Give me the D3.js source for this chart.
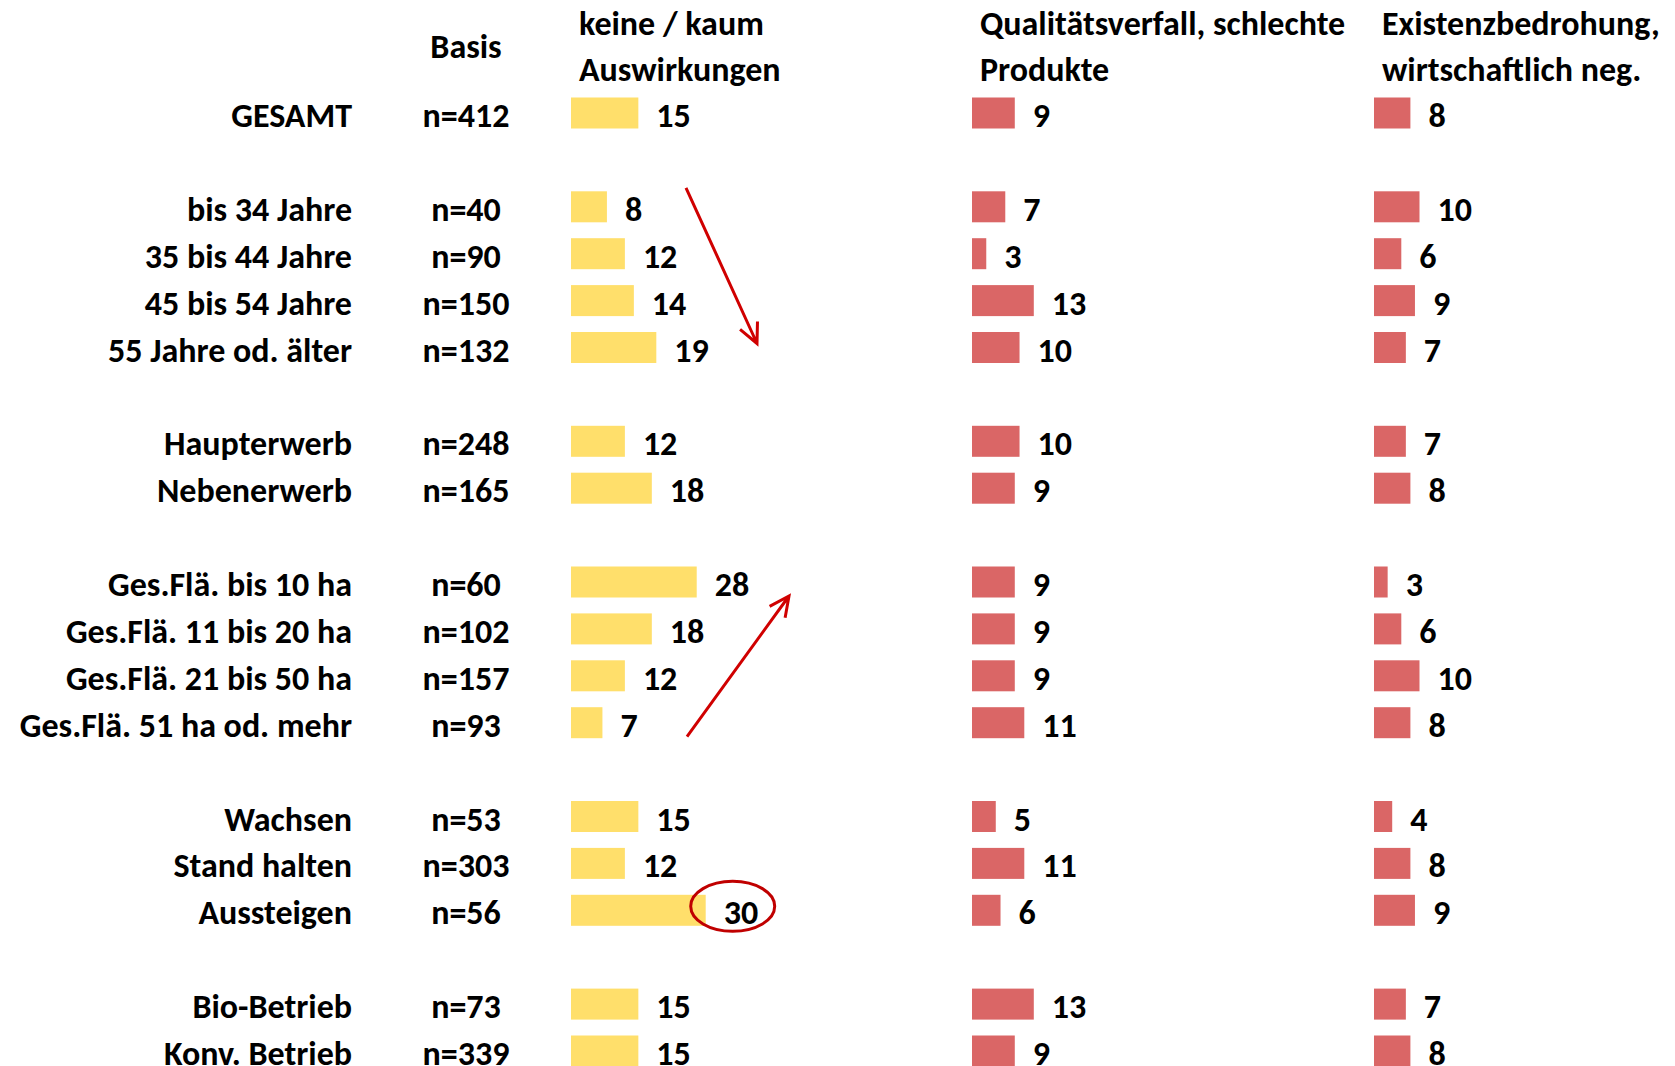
<!DOCTYPE html>
<html>
<head>
<meta charset="utf-8">
<script src="https://cdn.jsdelivr.net/npm/d3@7"></script>
<style>
  body { margin: 0; background: #fff; }
  text { font-family: Carlito, Calibri, Lato, sans-serif; font-weight: bold; fill: #000; }
</style>
</head>
<body>
<div id="chart"></div>
<script>
// Kategorien, Basis und Gruppen
var categories = ["GESAMT", "bis 34 Jahre", "35 bis 44 Jahre", "45 bis 54 Jahre", "55 Jahre od. älter",
  "Haupterwerb", "Nebenerwerb",
  "Ges.Flä. bis 10 ha", "Ges.Flä. 11 bis 20 ha", "Ges.Flä. 21 bis 50 ha", "Ges.Flä. 51 ha od. mehr",
  "Wachsen", "Stand halten", "Aussteigen",
  "Bio-Betrieb", "Konv. Betrieb"];
var basis = ["n=412", "n=40", "n=90", "n=150", "n=132", "n=248", "n=165",
  "n=60", "n=102", "n=157", "n=93", "n=53", "n=303", "n=56", "n=73", "n=339"];
var groups = [0, 1, 1, 1, 1, 2, 2, 3, 3, 3, 3, 4, 4, 4, 5, 5];

var seriesNames = [["keine / kaum", "Auswirkungen"], ["Qualitätsverfall, schlechte", "Produkte"], ["Existenzbedrohung,", "wirtschaftlich neg."]];
var keineKaum = [15, 8, 12, 14, 19, 12, 18, 28, 18, 12, 7, 15, 12, 30, 15, 15];
var qualitaet = [9, 7, 3, 13, 10, 10, 9, 9, 9, 9, 11, 5, 11, 6, 13, 9];
var existenz = [8, 10, 6, 9, 7, 7, 8, 3, 6, 10, 8, 4, 8, 9, 7, 8];

var width = 1675, height = 1066;
var svg = d3.select("#chart").append("svg")
  .attr("width", width)
  .attr("height", height);

// slot = index + group (one empty row between groups)
var slot = categories.map(function(d, i) { return i + groups[i]; });
var y = d3.scaleLinear().domain([0, 20]).range([113, 113 + 20 * 46.9]);
var barH = 31;
var fs = 34;

var columns = [
  { values: keineKaum, x0: 571, scale: d3.scaleLinear().domain([0, 30]).range([0, 134.7]), color: "#ffdf6b", hx: 579 },
  { values: qualitaet, x0: 972, scale: d3.scaleLinear().domain([0, 13]).range([0, 61.8]), color: "#da6666", hx: 980 },
  { values: existenz, x0: 1374, scale: d3.scaleLinear().domain([0, 10]).range([0, 45.5]), color: "#da6666", hx: 1382 }
];

// row labels
svg.selectAll(".cat").data(categories).enter().append("text")
  .attr("class", "cat")
  .attr("x", 352)
  .attr("y", function(d, i) { return y(slot[i]) + 14; })
  .attr("text-anchor", "end")
  .style("font-size", fs + "px")
  .text(function(d) { return d; });

svg.selectAll(".basis").data(basis).enter().append("text")
  .attr("class", "basis")
  .attr("x", 466)
  .attr("y", function(d, i) { return y(slot[i]) + 14; })
  .attr("text-anchor", "middle")
  .style("font-size", fs + "px")
  .text(function(d) { return d; });

svg.append("text")
  .attr("x", 466).attr("y", 58)
  .attr("text-anchor", "middle")
  .style("font-size", fs + "px")
  .text("Basis");

columns.forEach(function(c, k) {
  var g = svg.append("g");
  g.selectAll("rect").data(c.values).enter().append("rect")
    .attr("x", c.x0)
    .attr("y", function(d, i) { return y(slot[i]) - barH / 2; })
    .attr("width", function(d) { return c.scale(d); })
    .attr("height", barH)
    .attr("fill", c.color);
  g.selectAll("text.val").data(c.values).enter().append("text")
    .attr("class", "val")
    .attr("x", function(d) { return c.x0 + c.scale(d) + 18; })
    .attr("y", function(d, i) { return y(slot[i]) + 14; })
    .style("font-size", fs + "px")
    .text(function(d) { return d; });
  g.selectAll("text.head").data(seriesNames[k]).enter().append("text")
    .attr("class", "head")
    .attr("x", c.hx)
    .attr("y", function(d, i) { return 34.5 + i * 46.5; })
    .style("font-size", fs + "px")
    .text(function(d) { return d; });
});

// annotations: arrows and circle
var red = "#d00000";
function arrow(x1, y1, x2, y2) {
  var a = Math.atan2(y2 - y1, x2 - x1), L = 22, w = 0.45;
  var p = d3.path();
  p.moveTo(x1, y1); p.lineTo(x2, y2);
  p.moveTo(x2 - L * Math.cos(a - w), y2 - L * Math.sin(a - w));
  p.lineTo(x2, y2);
  p.lineTo(x2 - L * Math.cos(a + w), y2 - L * Math.sin(a + w));
  svg.append("path").attr("d", p.toString())
    .attr("fill", "none").attr("stroke", red).attr("stroke-width", 3);
}
arrow(686, y(slot[1]) - 19, 757, y(slot[4]) - 4);
arrow(687, y(slot[10]) + 14, 789, y(slot[7]) + 14);

var xa = columns[0];
svg.append("ellipse")
  .attr("cx", xa.x0 + xa.scale(30) + 27)
  .attr("cy", y(slot[13]) - 4)
  .attr("rx", 42).attr("ry", 25)
  .attr("fill", "none")
  .attr("stroke", "#c00000")
  .attr("stroke-width", 3);
</script>
</body>
</html>
